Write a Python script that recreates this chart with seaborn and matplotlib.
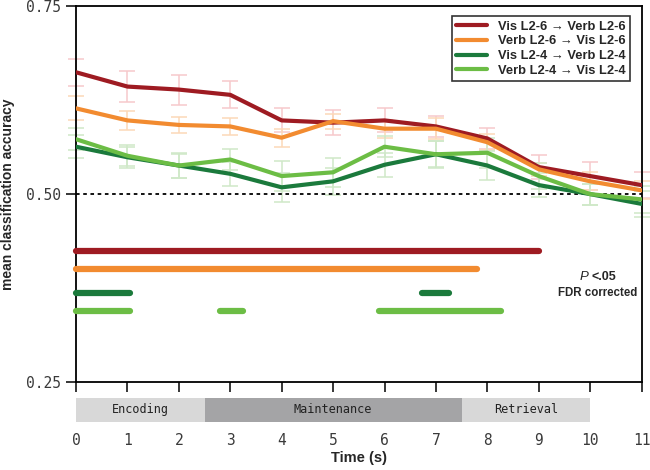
import numpy as np
import pandas as pd
import matplotlib
matplotlib.use('Agg')
import matplotlib.pyplot as plt
import seaborn as sns
from matplotlib.patches import Rectangle

# data
time_s = list(range(12))
series_names = ['Vis L2-6 → Verb L2-6', 'Verb L2-6 → Vis L2-6',
                'Vis L2-4 → Verb L2-4', 'Verb L2-4 → Vis L2-4']

vis_verb_26 = [0.662, 0.643, 0.639, 0.632, 0.598, 0.595, 0.598, 0.590, 0.574, 0.536, 0.524, 0.512]
verb_vis_26 = [0.614, 0.598, 0.592, 0.590, 0.575, 0.597, 0.587, 0.587, 0.569, 0.533, 0.517, 0.505]
vis_verb_24 = [0.563, 0.549, 0.538, 0.527, 0.509, 0.517, 0.539, 0.553, 0.538, 0.512, 0.500, 0.487]
verb_vis_24 = [0.573, 0.551, 0.538, 0.546, 0.524, 0.529, 0.563, 0.553, 0.555, 0.524, 0.500, 0.493]

sem_vis_verb_26 = [0.018, 0.021, 0.020, 0.018, 0.016, 0.017, 0.016, 0.014, 0.014, 0.016, 0.019, 0.017]
sem_verb_vis_26 = [0.016, 0.013, 0.011, 0.011, 0.012, 0.010, 0.012, 0.014, 0.011, 0.009, 0.012, 0.012]
sem_vis_verb_24 = [0.015, 0.014, 0.016, 0.016, 0.019, 0.018, 0.016, 0.017, 0.019, 0.016, 0.014, 0.017]
sem_verb_vis_24 = [0.015, 0.014, 0.017, 0.014, 0.020, 0.019, 0.014, 0.018, 0.020, 0.017, 0.014, 0.018]

# significant time windows (P < .05, FDR corrected)
sig_vis_verb_26 = [(0.0, 9.0)]
sig_verb_vis_26 = [(0.0, 7.8)]
sig_vis_verb_24 = [(0.0, 1.05), (6.72, 7.25)]
sig_verb_vis_24 = [(0.0, 1.05), (2.8, 3.25), (5.9, 8.27)]
sig_rows = [0.425, 0.401, 0.368, 0.344]

phases = ['Encoding', 'Maintenance', 'Retrieval']
phase_edges = [0, 2.5, 7.5, 10]

line_colors = ['#9e1b22', '#f28b30', '#1b7a3c', '#6cbd45']
err_colors = ['#f7c9cb', '#fcd9b8', '#cfe8c8', '#cfe8c8']
phase_colors = ['#d8d8d8', '#a4a4a6', '#d8d8d8']

values = [vis_verb_26, verb_vis_26, vis_verb_24, verb_vis_24]
sems = [sem_vis_verb_26, sem_verb_vis_26, sem_vis_verb_24, sem_verb_vis_24]
sigs = [sig_vis_verb_26, sig_verb_vis_26, sig_vis_verb_24, sig_verb_vis_24]

df = pd.DataFrame({
    'time': time_s * 4,
    'acc': sum(values, []),
    'cond': [n for n in series_names for _ in time_s],
})

sns.set_style('ticks')
plt.rcParams['font.family'] = ['Liberation Sans', 'DejaVu Sans']

fig = plt.figure(figsize=(6.5, 4.7), dpi=100)
ax = fig.add_axes([0.117, 0.187, 0.870, 0.800])

# error bars first so lines sit on top
for v, s, c in zip(values, sems, err_colors):
    ax.errorbar(time_s, v, yerr=s, fmt='none', ecolor=c, elinewidth=1.1,
                capsize=5.5, capthick=1.1, zorder=1, clip_on=False)

sns.lineplot(data=df, x='time', y='acc', hue='cond', palette=line_colors,
             linewidth=3, ax=ax, zorder=3, legend=True)

ax.axhline(0.5, color='black', linestyle=(0, (2, 2)), linewidth=1.3, zorder=2)

# significance bars
for rows, c, yrow in zip(sigs, line_colors, sig_rows):
    for start, end in rows:
        ax.plot([start, end], [yrow, yrow], color=c, linewidth=4.5,
                solid_capstyle='round', zorder=3, clip_on=False)

ax.text(9.97, 0.390, 'P', ha='right', va='center', fontsize=9.5,
        fontstyle='italic')
ax.text(10.02, 0.390, '<.05', ha='left', va='center', fontsize=9,
        fontweight='bold')
ax.text(10.15, 0.369, 'FDR corrected', ha='center', va='center', fontsize=8.3,
        fontweight='bold')

# task phase bar below the axis
trans = ax.get_xaxis_transform()
for i, name in enumerate(phases):
    x0, x1 = phase_edges[i], phase_edges[i + 1]
    ax.add_patch(Rectangle((x0, -0.106), x1 - x0, 0.064, transform=trans,
                           facecolor=phase_colors[i], edgecolor='none',
                           clip_on=False))
    ax.text((x0 + x1) / 2, -0.074, name, transform=trans, ha='center',
            va='center', fontsize=8.5, color='#222222',
            family='DejaVu Sans Mono')

ax.set_xlim(0, 11)
ax.set_ylim(0.25, 0.75)
ax.set_xticks(time_s)
ax.set_yticks([0.25, 0.50, 0.75])
ax.set_yticklabels(['0.25', '0.50', '0.75'])
ax.tick_params(axis='x', direction='out', length=7, width=1.3, pad=30,
               labelsize=10.5, labelcolor='#3a3a3a')
ax.tick_params(axis='y', direction='out', length=7, width=1.3, pad=4,
               labelsize=10.5, labelcolor='#3a3a3a')
for lab in ax.get_xticklabels() + ax.get_yticklabels():
    lab.set_fontfamily('DejaVu Sans Mono')
for sp in ax.spines.values():
    sp.set_linewidth(1.3)
    sp.set_color('black')

ax.set_xlabel('Time (s)', fontsize=10.5, fontweight='bold', labelpad=2)
ax.set_ylabel('mean classification accuracy', fontsize=10, fontweight='bold')
ax.yaxis.set_label_coords(-0.108, 0.5)

leg = ax.legend(loc='upper right', bbox_to_anchor=(0.979, 0.973),
                borderaxespad=0, frameon=True, fancybox=False,
                edgecolor='black', handlelength=2.4, handletextpad=0.8,
                labelspacing=0.2, borderpad=0.35,
                prop={'weight': 'bold', 'size': 9.3})
leg.get_frame().set_linewidth(1.2)
for ln in leg.get_lines():
    ln.set_linewidth(3)

fig.savefig('out.png', dpi=100)
